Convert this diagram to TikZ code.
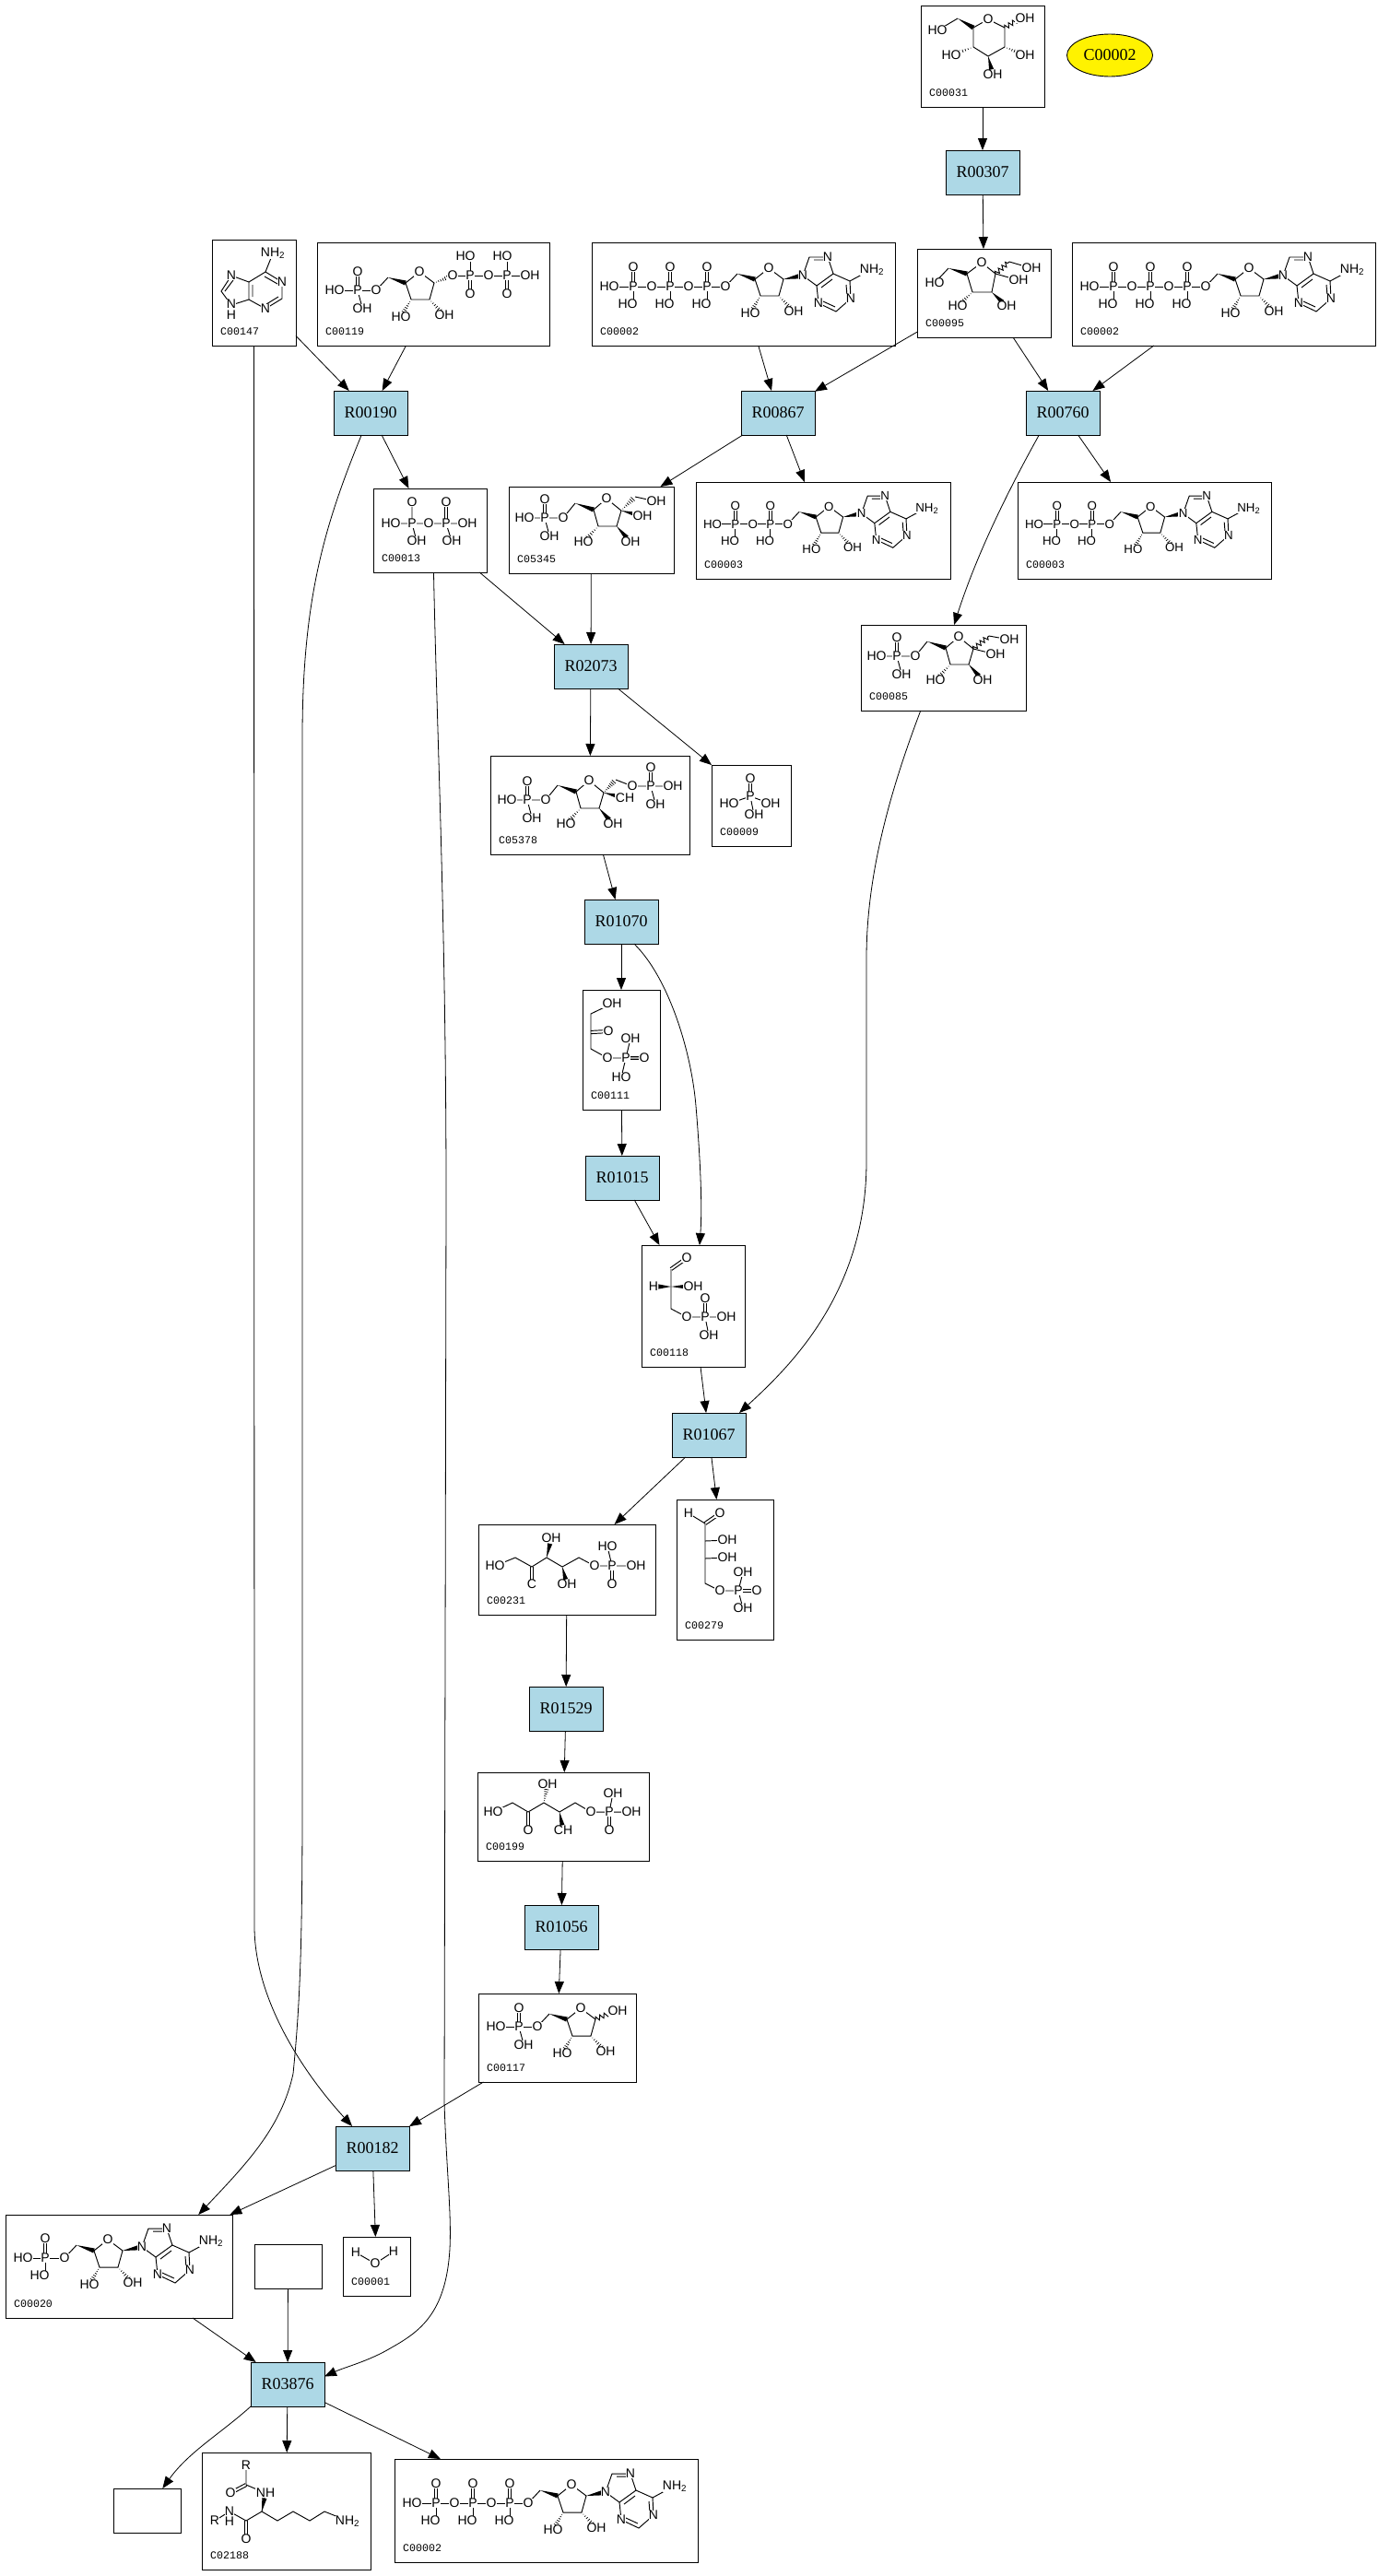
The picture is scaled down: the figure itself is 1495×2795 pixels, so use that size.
\documentclass[tikz,border=0pt]{standalone}
\usepackage{fontspec}
\setmainfont{Liberation Serif}
\newfontfamily\atomfont{Liberation Sans}
\newfontfamily\tagfont{Liberation Mono}
\usetikzlibrary{arrows.meta,calc,shapes.geometric,decorations.pathmorphing}

\newcommand{\atm}[3]{\node[atom] (#1) at (#2) {#3};}
\newcommand{\wedgeb}[3][.72]{\fill (#2) -- ($(#2)!#1!(#3)!2.6pt!90:(#2)$) -- ($(#2)!#1!(#3)!2.6pt!-90:(#2)$) -- cycle;}
\newcommand{\hashb}[2]{\foreach \hh in {.12,.24,...,.96} \draw[line width=.7pt] ($(#1)!\hh!(#2)!\hh*3.4pt!90:(#1)$) -- ($(#1)!\hh!(#2)!\hh*3.4pt!-90:(#1)$);}
\newcommand{\dbond}[2]{\draw[bond] ($(#1)!1.6pt!90:(#2)$) -- ($(#2)!1.6pt!-90:(#1)$); \draw[bond] ($(#1)!1.6pt!-90:(#2)$) -- ($(#2)!1.6pt!90:(#1)$);}
\newcommand{\wavyb}[2]{\draw[bond,decorate,decoration={zigzag,segment length=5pt,amplitude=2.5pt}] (#1) -- (#2);}

\tikzset{
  reaction/.style={draw,fill=reactcolor,anchor=north west,minimum width=80,minimum height=48,inner sep=0,outer sep=0,line width=.9pt,font=\fontsize{18}{18}\selectfont},
  compound/.style 2 args={draw,anchor=north west,minimum width=#1,minimum height=#2,inner sep=0,outer sep=0,line width=.9pt},
  flow/.style={draw,line width=.8pt,-{Triangle[length=13pt,width=10pt]}},
  bond/.style={line width=.95pt},
  atom/.style={fill=white,inner sep=.4pt,font=\atomfont\fontsize{14}{14}\selectfont},
  idtag/.style={anchor=west,inner sep=0,font=\tagfont\fontsize{11.6}{12}\selectfont},
  phoa/.pic={
    \dbond{0,0}{0,-21}
    \draw[bond] (0,0) -- (0,15);
    \atm{o}{0,-21}{O}
    \atm{h}{-6,19}{HO}
    \atm{p}{0,0}{P}
  },
  phob/.pic={
    \dbond{0,0}{0,-20}
    \draw[bond] (0,0) -- (4,15);
    \atm{o}{0,-20}{O}
    \atm{h}{5,20}{OH}
    \atm{p}{0,0}{P}
  },
  phoc/.pic={
    \dbond{0,0}{0,20}
    \draw[bond] (0,0) -- (0,-15);
    \atm{o}{0,20}{O}
    \atm{h}{-5,-21}{HO}
    \atm{p}{0,0}{P}
  },
  ribose/.pic={
    \draw[bond] (0,0) -- (13,-14);
    \wedgeb[1]{13,-14}{32,-8}
    \draw[bond] (32,-8) -- (47,-20) -- (63,-8) -- (58,10) -- (38,10) -- cycle;
    \hashb{38,10}{27,29}
    \hashb{58,10}{74,27}
    \atm{oe}{0,0}{O}
    \atm{or}{47,-20}{O}
    \atm{hoa}{27,29}{HO}
    \atm{hob}{74,27}{OH}
  },
  adenine/.pic={
    \draw[bond] (0,0) -- (7,-20) -- (27,-20) -- (33,-2) -- (51,6) -- (52,25) -- (36,39) -- (17,30) -- (15,11) -- (33,-2);
    \draw[bond] (15,11) -- (0,0) (51,6) -- (75,-7);
    \draw[bond] (12,-17) -- (24,-17) (20,13) -- (32,4) (47,10) -- (48,22) (35,34) -- (22,28);
    \atm{n9}{0,0}{N}
    \atm{n7}{27,-20}{N}
    \atm{n1}{52,25}{N}
    \atm{n3}{17,30}{N}
    \atm{nh}{75,-6}{NH\textsubscript{2}}
  },
  adenosine/.pic={
    \pic (r) at (0,0) {ribose};
    \wedgeb[.8]{63,-8}{84,-12}
    \pic (a) at (84,-12) {adenine};
  },
  atpm/.pic={
    \draw[bond] (19,48) -- (145,48);
    \pic (pa) at (45,48) {phoa};
    \pic (pb) at (85,48) {phoa};
    \pic (pc) at (125,48) {phoa};
    \pic (s) at (145,48) {adenosine};
    \atm{h}{19,48}{HO}
    \atm{oa}{65,48}{O}
    \atm{ob}{105,48}{O}
  },
  adpm/.pic={
    \draw[bond] (19,48) -- (105,48);
    \pic (pa) at (45,48) {phoa};
    \pic (pb) at (85,48) {phoa};
    \pic (s) at (105,48) {adenosine};
    \atm{h}{19,48}{HO}
    \atm{oa}{65,48}{O}
  },
  ampm/.pic={
    \draw[bond] (19,47) -- (64,47);
    \pic (pa) at (43,47) {phoa};
    \pic (s) at (64,47) {adenosine};
    \atm{h}{19,47}{HO}
  },
  prppm/.pic={
    \draw[bond] (19,52) -- (64,52);
    \pic (pa) at (44,52) {phob};
    \pic (r) at (64,52) {ribose};
    \hashb{127,44}{147,36}
    \draw[bond] (147,36) -- (231,36);
    \pic (pb) at (166,36) {phoc};
    \pic (pc) at (206,36) {phoc};
    \atm{h}{19,52}{HO}
    \atm{oa}{147,36}{O}
    \atm{ob}{186,36}{O}
    \atm{oh}{231,36}{OH}
  },
  rfivepm/.pic={
    \draw[bond] (19,36) -- (64,36);
    \pic (pa) at (44,36) {phob};
    \pic (r) at (64,36) {ribose};
    \wavyb{127,28}{145,20}
    \atm{h}{19,36}{HO}
    \atm{oh}{151,19}{OH}
  },
  adeninem/.pic={
    \draw[bond] (66,15) -- (58,35) -- (76,46) -- (76,64) -- (58,75) -- (40,65) -- (40,46) -- (58,35);
    \draw[bond] (40,46) -- (21,39) -- (10,56) -- (21,71) -- (40,65);
    \draw[bond] (57,40) -- (71,48) (72,62) -- (59,70) (44,49) -- (44,62) (23,44) -- (14,56);
    \atm{nh}{66,15}{NH\textsubscript{2}}
    \atm{na}{76,46}{N}
    \atm{nb}{58,75}{N}
    \atm{nc}{21,39}{N}
    \atm{nd}{21,70}{N}
    \atm{he}{21,82}{H}
  },
  glucosem/.pic={
    \draw[bond] (18,27) -- (40,14);
    \wedgeb[1]{40,14}{57,24}
    \draw[bond] (57,24) -- (73,15) -- (91,24) -- (91,45) -- (73,55) -- (57,45) -- cycle;
    \wavyb{91,24}{106,15}
    \hashb{57,45}{33,54}
    \hashb{91,45}{113,54}
    \wedgeb{73,55}{78,75}
    \atm{ha}{18,27}{HO}
    \atm{oa}{73,15}{O}
    \atm{hb}{113,14}{OH}
    \atm{hc}{33,54}{HO}
    \atm{hd}{113,54}{OH}
    \atm{he}{78,75}{OH}
  },
  fructosem/.pic={
    \draw[bond] (19,37) -- (34,21);
    \wedgeb[1]{34,21}{54,27}
    \draw[bond] (54,27) -- (70,15) -- (85,27) -- (81,47) -- (60,47) -- cycle;
    \hashb{60,47}{44,62}
    \wedgeb{81,47}{97,62}
    \draw[bond] (85,27) -- (110,34) (100,14) -- (124,21);
    \wavyb{85,27}{100,14}
    \atm{ha}{19,37}{HO}
    \atm{oa}{70,15}{O}
    \atm{hb}{44,62}{HO}
    \atm{hc}{97,62}{OH}
    \atm{hd}{110,34}{OH}
    \atm{he}{124,21}{OH}
  },
  fbase/.pic={
    \draw[bond] (17,34) -- (59,34) -- (72,18);
    \pic (pa) at (39,34) {phob};
    \wedgeb[1]{72,18}{92,25}
    \draw[bond] (92,25) -- (106,13) -- (122,26) -- (117,43) -- (97,43) -- cycle;
    \hashb{97,43}{81,60}
    \wedgeb{117,43}{132,60}
    \atm{ha}{17,34}{HO}
    \atm{oa}{59,34}{O}
    \atm{ob}{106,13}{O}
    \atm{hb}{81,60}{HO}
    \atm{hc}{132,60}{OH}
  },
  fsixpm/.pic={
    \pic (b) at (0,0) {fbase};
    \hashb{122,26}{137,11}
    \draw[bond] (137,11) -- (160,16);
    \wedgeb{122,26}{145,32}
    \atm{hd}{160,16}{OH}
    \atm{he}{145,32}{OH}
  },
  fructpm/.pic={
    \pic (b) at (0,0) {fbase};
    \wavyb{122,26}{139,12}
    \draw[bond] (139,12) -- (161,16) (122,26) -- (146,32);
    \atm{hd}{161,16}{OH}
    \atm{he}{146,32}{OH}
  },
  fbism/.pic={
    \pic (b) at (1,14) {fbase};
    \hashb{123,40}{136,26}
    \draw[bond] (136,26) -- (154,33) -- (198,33);
    \pic (pb) at (174,33) {phob};
    \wedgeb{123,40}{146,46}
    \atm{hd}{146,46}{CH}
    \atm{oc}{154,33}{O}
    \atm{he}{198,33}{OH}
  },
  pyrom/.pic={
    \draw[bond] (19,38) -- (102,38) (42,38) -- (42,15) (42,38) -- (47,57) (79,38) -- (85,57);
    \dbond{79,38}{79,15}
    \atm{ha}{19,38}{HO}
    \atm{pa}{42,38}{P}
    \atm{oa}{42,15}{O}
    \atm{hb}{47,57}{OH}
    \atm{ob}{60,38}{O}
    \atm{pb}{79,38}{P}
    \atm{oc}{79,15}{O}
    \atm{hc}{85,57}{OH}
    \atm{hd}{102,38}{OH}
  },
  phosm/.pic={
    \draw[bond] (19,42) -- (42,34) -- (64,42) (42,34) -- (46,54);
    \dbond{42,34}{42,15}
    \atm{oa}{42,15}{O}
    \atm{ha}{19,42}{HO}
    \atm{hb}{64,42}{OH}
    \atm{hc}{46,54}{OH}
    \atm{pa}{42,34}{P}
  },
  dhapm/.pic={
    \draw[bond] (32,15) -- (9,26) -- (9,46) -- (9,64) -- (27,74) -- (67,74) (47,74) -- (52,53) (47,74) -- (42,95);
    \dbond{9,46}{28,45}
    \dbond{47,74}{67,74}
    \atm{ha}{32,15}{OH}
    \atm{oa}{28,45}{O}
    \atm{ob}{27,74}{O}
    \atm{pa}{47,74}{P}
    \atm{hb}{52,53}{OH}
    \atm{oc}{67,74}{O}
    \atm{hc}{42,95}{HO}
  },
  gapm/.pic={
    \draw[bond] (32,26) -- (32,69) -- (49,78) -- (92,78) (69,78) -- (73,98);
    \dbond{32,26}{49,14}
    \dbond{69,78}{69,58}
    \wedgeb{32,45}{13,45}
    \wedgeb{32,45}{56,45}
    \atm{oa}{49,14}{O}
    \atm{ha}{13,45}{H}
    \atm{hb}{56,45}{OH}
    \atm{ob}{49,78}{O}
    \atm{pa}{69,78}{P}
    \atm{oc}{69,58}{O}
    \atm{hc}{92,78}{OH}
    \atm{hd}{73,98}{OH}
  },
  xylum/.pic={
    \draw[bond] (18,45) -- (40,36) -- (58,46) -- (74,36) -- (91,46) -- (109,36) -- (126,45) -- (171,45) (145,45) -- (140,24);
    \dbond{58,46}{58,65}
    \dbond{145,45}{145,65}
    \wedgeb{74,36}{79,15}
    \wedgeb{91,46}{96,65}
    \atm{ha}{18,45}{HO}
    \atm{oa}{58,65}{C}
    \atm{hb}{79,15}{OH}
    \atm{hc}{96,65}{OH}
    \atm{ob}{126,45}{O}
    \atm{pa}{145,45}{P}
    \atm{hd}{140,24}{HO}
    \atm{he}{171,45}{OH}
    \atm{oc}{145,65}{O}
  },
  erythm/.pic={
    \draw[bond] (13,15) -- (31,26) -- (31,91) -- (47,99) -- (67,99) -- (72,79) (67,99) -- (72,118) (31,45) -- (55,44) (31,64) -- (55,63);
    \dbond{31,26}{47,15}
    \dbond{67,99}{87,99}
    \atm{ha}{13,15}{H}
    \atm{oa}{47,15}{O}
    \atm{hb}{55,44}{OH}
    \atm{hc}{55,63}{OH}
    \atm{ob}{47,99}{O}
    \atm{pa}{67,99}{P}
    \atm{hd}{72,79}{OH}
    \atm{oc}{87,99}{O}
    \atm{he}{72,118}{OH}
  },
  ribulm/.pic={
    \draw[bond] (17,43) -- (38,33) -- (55,43) -- (72,33) -- (89,43) -- (106,33) -- (123,43) -- (167,43) (143,43) -- (147,23);
    \dbond{55,43}{55,63}
    \dbond{143,43}{143,63}
    \hashb{72,33}{76,13}
    \wedgeb{89,43}{93,63}
    \atm{ha}{17,43}{HO}
    \atm{oa}{55,63}{O}
    \atm{hb}{76,13}{OH}
    \atm{hc}{93,63}{CH}
    \atm{ob}{123,43}{O}
    \atm{pa}{143,43}{P}
    \atm{hd}{147,23}{OH}
    \atm{he}{167,43}{OH}
    \atm{oc}{143,63}{O}
  },
  waterm/.pic={
    \draw[bond] (14,17) -- (35,29) -- (55,16);
    \atm{ha}{14,17}{H}
    \atm{oa}{35,29}{O}
    \atm{hb}{55,16}{H}
  },
  lysinem/.pic={
    \draw[bond] (48,14) -- (48,35) -- (69,44) -- (65,64) (30,64) -- (48,74) -- (65,64) -- (82,74) -- (99,64) -- (117,74) -- (133,64) -- (158,74) (30,64) -- (14,74);
    \dbond{48,35}{31,44}
    \dbond{48,74}{48,94}
    \wedgeb{65,64}{69,44}
    \atm{ra}{48,14}{R}
    \atm{oa}{31,44}{O}
    \atm{na}{69,44}{NH}
    \atm{nb}{30,64}{N}
    \atm{ha}{30,75}{H}
    \atm{rb}{14,74}{R}
    \atm{ob}{48,94}{O}
    \atm{nc}{158,75}{NH\textsubscript{2}}
  },
}

\begin{document}
\begin{tikzpicture}[x=1pt,y=-1pt]
  \definecolor{reactcolor}{RGB}{173,216,230}
  \useasboundingbox (0,0) rectangle (1495,2795);

  % Reactions
  \node[reaction] (r00307) at (1026,163) {R00307};
  \node[reaction] (r00190) at (362,424) {R00190};
  \node[reaction] (r00867) at (804,424) {R00867};
  \node[reaction] (r00760) at (1113,424) {R00760};
  \node[reaction] (r02073) at (601,699) {R02073};
  \node[reaction] (r01070) at (634,976) {R01070};
  \node[reaction] (r01015) at (635,1254) {R01015};
  \node[reaction] (r01067) at (729,1533) {R01067};
  \node[reaction] (r01529) at (574,1830) {R01529};
  \node[reaction] (r01056) at (569,2067) {R01056};
  \node[reaction] (r00182) at (364,2307) {R00182};
  \node[reaction] (r03876) at (272,2563) {R03876};

  % Yellow query node
  \node[ellipse,draw,fill=yellow,line width=.9pt,minimum width=93,minimum height=46,inner sep=0,font=\fontsize{18}{18}\selectfont] (query) at (1204,60) {C00002};

  % Compound boxes
  \node[compound={134}{110}] (c00031) at (999,6) {};
  \node[compound={91}{115}] (c00147) at (230,260) {};
  \node[compound={252}{112}] (c00119) at (344,263) {};
  \node[compound={329}{112}] (c00002a) at (642,263) {};
  \node[compound={145}{96}] (c00095) at (995,270) {};
  \node[compound={329}{112}] (c00002b) at (1163,263) {};
  \node[compound={123}{91}] (c00013) at (405,530) {};
  \node[compound={179}{94}] (c05345) at (552,528) {};
  \node[compound={276}{105}] (c00003a) at (755,523) {};
  \node[compound={275}{105}] (c00003b) at (1104,523) {};
  \node[compound={179}{93}] (c00085) at (934,678) {};
  \node[compound={216}{107}] (c05378) at (532,820) {};
  \node[compound={86}{88}] (c00009) at (772,830) {};
  \node[compound={84}{130}] (c00111) at (632,1074) {};
  \node[compound={112}{132}] (c00118) at (696,1351) {};
  \node[compound={192}{98}] (c00231) at (519,1654) {};
  \node[compound={105}{152}] (c00279) at (734,1627) {};
  \node[compound={186}{96}] (c00199) at (518,1923) {};
  \node[compound={171}{96}] (c00117) at (519,2163) {};
  \node[compound={246}{112}] (c00020) at (6,2403) {};
  \node[compound={73}{48}] (blanka) at (276,2435) {};
  \node[compound={73}{64}] (c00001) at (372,2427) {};
  \node[compound={73}{48}] (blankb) at (123,2700) {};
  \node[compound={183}{127}] (c02188) at (219,2661) {};
  \node[compound={329}{112}] (c00002c) at (428,2668) {};

  % Structures
  \pic (m31) at (c00031.north west) {glucosem};
  \pic (m147) at (c00147.north west) {adeninem};
  \pic (m119) at (c00119.north west) {prppm};
  \pic (m2a) at (c00002a.north west) {atpm};
  \pic (m95) at (c00095.north west) {fructosem};
  \pic (m2b) at (c00002b.north west) {atpm};
  \pic (m13) at (c00013.north west) {pyrom};
  \pic (m5345) at (c05345.north west) {fsixpm};
  \pic[scale=.95,transform shape] (m3a) at (c00003a.north west) {adpm};
  \pic[scale=.95,transform shape] (m3b) at (c00003b.north west) {adpm};
  \pic (m85) at (c00085.north west) {fructpm};
  \pic (m5378) at (c05378.north west) {fbism};
  \pic (m9) at (c00009.north west) {phosm};
  \pic (m111) at (c00111.north west) {dhapm};
  \pic (m118) at (c00118.north west) {gapm};
  \pic (m231) at (c00231.north west) {xylum};
  \pic (m279) at (c00279.north west) {erythm};
  \pic (m199) at (c00199.north west) {ribulm};
  \pic (m117) at (c00117.north west) {rfivepm};
  \pic (m20) at (c00020.north west) {ampm};
  \pic (m1) at (c00001.north west) {waterm};
  \pic (m2188) at (c02188.north west) {lysinem};
  \pic (m2c) at (c00002c.north west) {atpm};

  % Compound ids
  \node[idtag] (t31) at ([shift={(9,-15)}]c00031.south west) {C00031};
  \node[idtag] (t147) at ([shift={(9,-15)}]c00147.south west) {C00147};
  \node[idtag] (t119) at ([shift={(9,-15)}]c00119.south west) {C00119};
  \node[idtag] (t2a) at ([shift={(9,-15)}]c00002a.south west) {C00002};
  \node[idtag] (t95) at ([shift={(9,-15)}]c00095.south west) {C00095};
  \node[idtag] (t2b) at ([shift={(9,-15)}]c00002b.south west) {C00002};
  \node[idtag] (t13) at ([shift={(9,-15)}]c00013.south west) {C00013};
  \node[idtag] (t5345) at ([shift={(9,-15)}]c05345.south west) {C05345};
  \node[idtag] (t3a) at ([shift={(9,-15)}]c00003a.south west) {C00003};
  \node[idtag] (t3b) at ([shift={(9,-15)}]c00003b.south west) {C00003};
  \node[idtag] (t85) at ([shift={(9,-15)}]c00085.south west) {C00085};
  \node[idtag] (t5378) at ([shift={(9,-15)}]c05378.south west) {C05378};
  \node[idtag] (t9) at ([shift={(9,-15)}]c00009.south west) {C00009};
  \node[idtag] (t111) at ([shift={(9,-15)}]c00111.south west) {C00111};
  \node[idtag] (t118) at ([shift={(9,-15)}]c00118.south west) {C00118};
  \node[idtag] (t231) at ([shift={(9,-15)}]c00231.south west) {C00231};
  \node[idtag] (t279) at ([shift={(9,-15)}]c00279.south west) {C00279};
  \node[idtag] (t199) at ([shift={(9,-15)}]c00199.south west) {C00199};
  \node[idtag] (t117) at ([shift={(9,-15)}]c00117.south west) {C00117};
  \node[idtag] (t20) at ([shift={(9,-15)}]c00020.south west) {C00020};
  \node[idtag] (t1) at ([shift={(9,-15)}]c00001.south west) {C00001};
  \node[idtag] (t2188) at ([shift={(9,-15)}]c02188.south west) {C02188};
  \node[idtag] (t2c) at ([shift={(9,-15)}]c00002c.south west) {C00002};

  % Straight connectors
  \draw[flow] (c00031) -- (r00307);
  \draw[flow] (r00307) -- (c00095);
  \draw[flow] (c00147) -- (r00190);
  \draw[flow] (c00119) -- (r00190);
  \draw[flow] (c00002a) -- (r00867);
  \draw[flow] (c00095) -- (r00867);
  \draw[flow] (c00095) -- (r00760);
  \draw[flow] (c00002b) -- (r00760);
  \draw[flow] (r00190) -- (c00013);
  \draw[flow] (r00867) -- (c05345);
  \draw[flow] (r00867) -- (c00003a);
  \draw[flow] (r00760) -- (c00003b);
  \draw[flow] (c00013) -- (r02073);
  \draw[flow] (c05345) -- (r02073);
  \draw[flow] (r02073) -- (c05378);
  \draw[flow] (r02073) -- (c00009.north west);
  \draw[flow] (c05378) -- (r01070);
  \draw[flow] (r01070) -- (c00111);
  \draw[flow] (c00111) -- (r01015);
  \draw[flow] (r01015) -- (c00118);
  \draw[flow] (c00118) -- (r01067);
  \draw[flow] (r01067) -- (c00231);
  \draw[flow] (r01067) -- (c00279);
  \draw[flow] (c00231) -- (r01529);
  \draw[flow] (r01529) -- (c00199);
  \draw[flow] (c00199) -- (r01056);
  \draw[flow] (r01056) -- (c00117);
  \draw[flow] (c00117) -- (r00182);
  \draw[flow] (r00182) -- (c00020);
  \draw[flow] (r00182) -- (c00001);
  \draw[flow] (c00020) -- (r03876);
  \draw[flow] (blanka) -- (r03876);
  \draw[flow] (r03876) -- (c02188);
  \draw[flow] (r03876) -- (c00002c);

  % Long curved connectors
  \draw[flow] (r00760.-137) .. controls (1095,530) and (1060,600) .. (c00085.76);
  \draw[flow] (c00085.-118) .. controls (965,860) and (940,950) .. (940,1040) -- (940,1260) .. controls (940,1400) and (860,1480) .. (r01067.36);
  \draw[flow] (r01070.-60) .. controls (725,1060) and (750,1140) .. (755,1200) .. controls (760,1260) and (762,1310) .. (c00118.84);
  \draw[flow] (c00147) -- (276,2090) .. controls (276,2170) and (330,2250) .. (r00182);
  \draw[flow] (r00190) .. controls (352,570) and (328,650) .. (328,800) -- (328,1950) .. controls (328,2100) and (326,2170) .. (318,2250) .. controls (305,2310) and (265,2350) .. (c00020.33);
  \draw[flow] (c00013.-85) .. controls (474,800) and (484,1000) .. (484,1300) -- (482,2280) .. controls (484,2350) and (490,2400) .. (488,2440) .. controls (484,2510) and (455,2530) .. (425,2547) .. controls (400,2562) and (375,2568) .. (r03876.12);
  \draw[flow] (r03876.south west) .. controls (240,2640) and (205,2660) .. (blankb.55);
\end{tikzpicture}
\end{document}
